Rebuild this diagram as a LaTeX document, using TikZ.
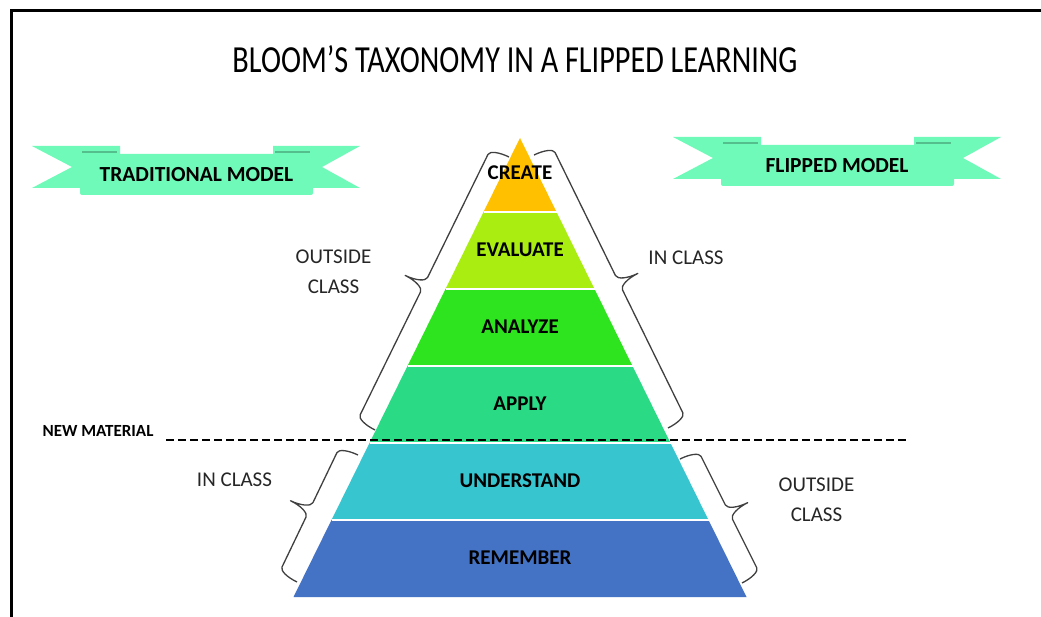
\documentclass[tikz,border=0pt]{standalone}
\usepackage{fontspec}
\usepackage{graphicx}
\setmainfont{Carlito}
\definecolor{ribbonc}{RGB}{112,250,185}
\definecolor{foldc}{RGB}{78,175,130}
\definecolor{cCreate}{RGB}{255,192,0}
\definecolor{cEval}{RGB}{170,238,17}
\definecolor{cAnal}{RGB}{46,228,30}
\definecolor{cApply}{RGB}{43,218,132}
\definecolor{cUnder}{RGB}{55,198,207}
\definecolor{cRemem}{RGB}{68,114,196}
\definecolor{braceC}{RGB}{64,64,64}
\newcommand\mybrace[4]{%
  \pgfmathsetmacro\bang{atan2(-(#4-#2),#3-#1)}%
  \pgfmathsetmacro\blen{veclen(#3-#1,#4-#2)}%
  \pgfmathsetmacro\bhalf{\blen/2}%
  \begin{scope}[shift={(#1,#2)}, rotate=\bang]
    \draw[bracestyle] (0,0) .. controls (0,11) and (3,20) .. (7,20)
      -- (\bhalf-8,20) .. controls (\bhalf-3.6,20) and (\bhalf,29.5) .. (\bhalf,41)
      .. controls (\bhalf,29.5) and (\bhalf+3.6,20) .. (\bhalf+8,20)
      -- (\blen-7,20) .. controls (\blen-3,20) and (\blen,11) .. (\blen,0);
  \end{scope}}
\begin{document}
\begin{tikzpicture}[x=1pt,y=-1pt,
  bracestyle/.style={draw=braceC, line width=1.3pt, line join=round},
  layertxt/.style={font=\fontsize{21}{24}\selectfont\bfseries, text=black, inner sep=0pt},
  sidetxt/.style={font=\fontsize{21}{30}\selectfont, text=black!85, align=center, inner sep=0pt},
  bannertxt/.style={font=\fontsize{21.5}{24}\selectfont\bfseries, text=black, inner sep=0pt},
  sepline/.style={draw=white, line width=1.5pt},
  ribbon/.pic={
    \fill[ribbonc] (0,0) -- (88,0) -- (88,42) -- (0,42) -- (40,21) -- cycle;
    \fill[ribbonc] (328,0) -- (241,0) -- (241,42) -- (328,42) -- (290,21) -- cycle;
    \fill[ribbonc, rounded corners=2pt] (48,8) rectangle (281,49);
    \draw[foldc, line width=1.2pt, opacity=0.8] (50,6) -- (85,6);
    \draw[foldc, line width=1.2pt, opacity=0.8] (243,6) -- (278,6);
  }]
\useasboundingbox (0,0) rectangle (1041,617);
\fill[white] (0,0) rectangle (1041,617);
% frame
\draw[black, line width=3.5pt, line join=miter] (11.7,617) -- (11.7,10.3) -- (1041,10.3);
% title
\node[inner sep=0pt] (title) at (515,59.5) {\resizebox{565pt}{27pt}{\fontsize{30}{30}\selectfont BLOOM’S TAXONOMY IN A FLIPPED LEARNING}};
% ribbons
\pic at (32,146) {ribbon};
\pic at (673,137) {ribbon};
\node[bannertxt] (trad) at (196.5,174.5) {TRADITIONAL MODEL};
\node[bannertxt] (flip) at (837,165.5) {FLIPPED MODEL};
% pyramid
\fill[cCreate] (520,138) -- (556.5,212) -- (483.5,212) -- cycle;
\fill[cEval] (483.5,212) -- (556.5,212) -- (594.5,289) -- (445.5,289) -- cycle;
\fill[cAnal] (445.5,289) -- (594.5,289) -- (632.5,366) -- (407.5,366) -- cycle;
\fill[cApply] (407.5,366) -- (632.5,366) -- (670.5,443) -- (369.5,443) -- cycle;
\fill[cUnder] (369.5,443) -- (670.5,443) -- (708.5,520) -- (331.5,520) -- cycle;
\fill[cRemem] (331.5,520) -- (708.5,520) -- (746.5,597) -- (293.5,597) -- cycle;
\draw[sepline] (483.5,212) -- (556.5,212);
\draw[sepline] (445.5,289) -- (594.5,289);
\draw[sepline] (407.5,366) -- (632.5,366);
\draw[sepline] (369.5,443) -- (670.5,443);
\draw[sepline] (331.5,520) -- (708.5,520);
\node[layertxt] (create) at (520,173) {CREATE};
\node[layertxt] (evaluate) at (520,250) {EVALUATE};
\node[layertxt] (analyze) at (520,327) {ANALYZE};
\node[layertxt] (apply) at (520,404) {APPLY};
\node[layertxt] (understand) at (520,481) {UNDERSTAND};
\node[layertxt] (remember) at (520,558) {REMEMBER};
% new material line
\node[font=\fontsize{17}{20}\selectfont\bfseries, inner sep=0pt] (newmat) at (98,430.5) {NEW MATERIAL};
\coordinate (dashL) at (166,440);
\coordinate (dashR) at (908,440);
\draw[black, line width=2pt, dash pattern=on 8pt off 4pt] (dashL) -- (dashR);
% braces
\mybrace{509}{157}{375}{430}
\mybrace{668}{428}{534}{155}
\mybrace{358}{455}{297}{582}
\mybrace{742}{583}{680}{459}
% side labels
\node[sidetxt] (outL) at (333.5,272) {OUTSIDE\\CLASS};
\node[sidetxt] (inR) at (686,257.5) {IN CLASS};
\node[sidetxt] (inL) at (234.5,480) {IN CLASS};
\node[sidetxt] (outR) at (816.5,499.5) {OUTSIDE\\CLASS};
\end{tikzpicture}
\end{document}
